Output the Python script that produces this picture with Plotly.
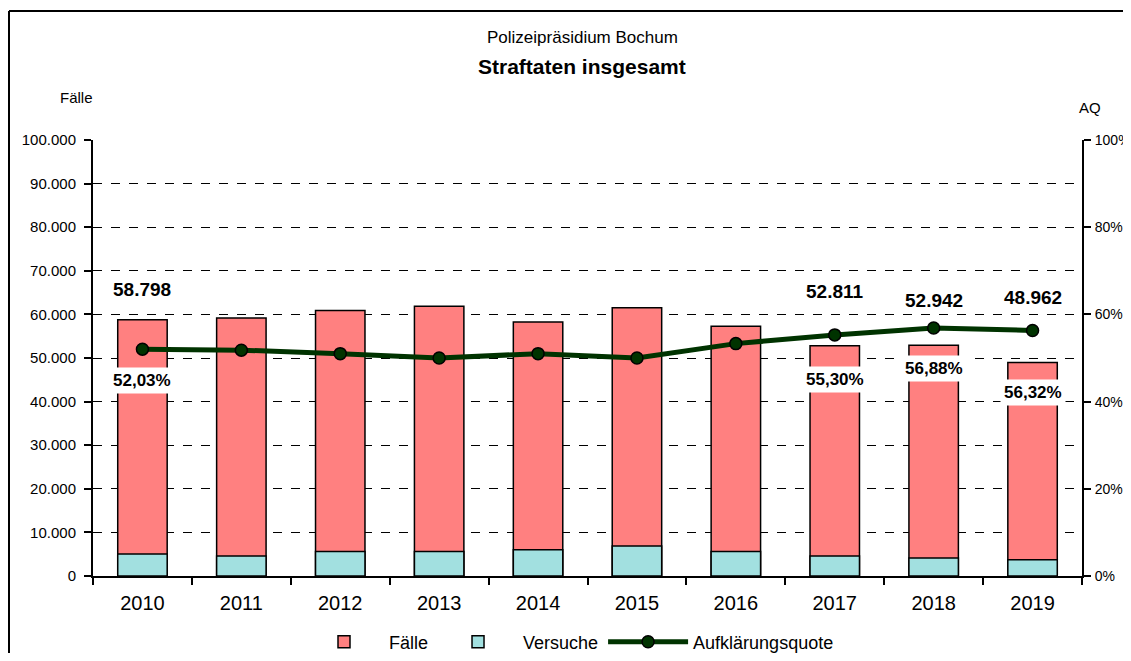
import plotly.graph_objects as go

years = ['2010', '2011', '2012', '2013', '2014', '2015', '2016', '2017', '2018', '2019']
faelle = [58798, 59200, 60900, 61850, 58270, 61500, 57300, 52811, 52942, 48962]
versuche = [5050, 4600, 5600, 5600, 6000, 6900, 5600, 4600, 4100, 3700]
aq = [52.03, 51.8, 51.0, 50.0, 51.0, 50.0, 53.3, 55.30, 56.88, 56.32]

# which years carry labels, and their manual offsets (px)
label_years = ['2010', '2017', '2018', '2019']
total_shift = [30, 54, 45, 65]
pct_shift = [-31, -45, -40, -62]

FONT = "Liberation Sans, Arial, sans-serif"

# page body has an 8px margin; figure sized to fit the 1131x661 window
W, H = 1115, 645
PL, PR, PT, PB = 85, 1074, 132, 568          # plot area in figure pixels
PW, PH = PR - PL, PB - PT


def px(xs):  # screen x -> paper
    return (xs - 8 - PL) / PW


def py(ys):  # screen y -> paper
    return (PB - (ys - 8)) / PH


fig = go.Figure()
fig.add_trace(go.Bar(x=years, y=faelle, name='Fälle',
                     marker=dict(color='#FF8080', line=dict(color='black', width=1.5)),
                     yaxis='y'))
fig.add_trace(go.Bar(x=years, y=versuche, name='Versuche',
                     marker=dict(color='#A2E0E0', line=dict(color='black', width=1.5)),
                     yaxis='y'))
fig.add_trace(go.Scatter(x=years, y=aq, name='Aufklärungsquote', yaxis='y2',
                         mode='lines+markers',
                         line=dict(color='#003300', width=5),
                         marker=dict(color='#003300', size=12, line=dict(color='black', width=1.5))))

annotations = []
for yr, sh, ps in zip(label_years, total_shift, pct_shift):
    i = years.index(yr)
    annotations.append(dict(x=i, y=faelle[i], xref='x', yref='y', yshift=sh,
                            xanchor='center', yanchor='middle',
                            text=f"{faelle[i]:,}".replace(',', '.'), showarrow=False,
                            font=dict(family=FONT, size=19, color='black', weight='bold')))
    annotations.append(dict(x=i, y=aq[i], xref='x', yref='y2', yshift=ps,
                            xanchor='center', yanchor='middle',
                            text=f"{aq[i]:.2f}%".replace('.', ','), showarrow=False,
                            bgcolor='white', borderpad=3,
                            font=dict(family=FONT, size=17, color='black', weight='bold')))

annotations += [
    dict(text='Polizeipräsidium Bochum', x=px(582), y=py(38), xref='paper', yref='paper',
         xanchor='center', yanchor='middle',
         showarrow=False, font=dict(family=FONT, size=17, color='black')),
    dict(text='<b>Straftaten insgesamt</b>', x=px(582), y=py(66), xref='paper', yref='paper',
         xanchor='center', yanchor='middle',
         showarrow=False, font=dict(family=FONT, size=21, color='black')),
    dict(text='Fälle', x=px(76), y=py(97), xref='paper', yref='paper',
         xanchor='center', yanchor='middle',
         showarrow=False, font=dict(family=FONT, size=15, color='black')),
    dict(text='AQ', x=px(1090), y=py(107), xref='paper', yref='paper',
         xanchor='center', yanchor='middle',
         showarrow=False, font=dict(family=FONT, size=15, color='black')),
]

fig.update_layout(
    width=W, height=H,
    margin=dict(l=PL, r=W - PR, t=PT, b=H - PB, pad=0, autoexpand=False),
    paper_bgcolor='white', plot_bgcolor='white',
    barmode='overlay', bargap=0.5,
    separators=',.',
    font=dict(family=FONT, color='black'),
    showlegend=True,
    legend=dict(orientation='h', x=px(299), xanchor='left', y=py(642), yanchor='middle',
                font=dict(family=FONT, size=18), itemwidth=80,
                traceorder='normal', bgcolor='rgba(0,0,0,0)'),
    xaxis=dict(type='category', range=[-0.5, len(years) - 0.5], autorange=False,
               automargin=False,
               tickson='boundaries', ticks='outside', ticklen=7, tickwidth=2, tickangle=0,
               ticklabelstandoff=8,
               tickcolor='black', showline=True, linecolor='black', linewidth=2,
               tickfont=dict(family=FONT, size=20), showgrid=False),
    yaxis=dict(range=[0, 100000], dtick=10000, tickformat=',d', ticks='outside', ticklen=7,
               automargin=False,
               tickwidth=2, tickcolor='black', showline=True, linecolor='black', linewidth=2,
               ticklabelstandoff=5,
               showgrid=True, gridcolor='black', gridwidth=1.3, griddash='dash',
               tickfont=dict(family=FONT, size=15), zeroline=False),
    yaxis2=dict(range=[0, 100], dtick=20, ticksuffix='%', overlaying='y', side='right',
                automargin=False,
                ticks='outside', ticklen=7, tickwidth=2, tickcolor='black', showline=True,
                ticklabelstandoff=1,
                linecolor='black', linewidth=2, showgrid=False, zeroline=False,
                tickfont=dict(family=FONT, size=14)),
    annotations=annotations,
    shapes=[
        dict(type='line', xref='paper', yref='paper', x0=px(9), x1=px(1140),
             y0=py(11), y1=py(11), line=dict(color='black', width=2)),
        dict(type='line', xref='paper', yref='paper', x0=px(9), x1=px(9),
             y0=py(11), y1=py(670), line=dict(color='black', width=2)),
    ],
)

fig.write_html("out.html")
